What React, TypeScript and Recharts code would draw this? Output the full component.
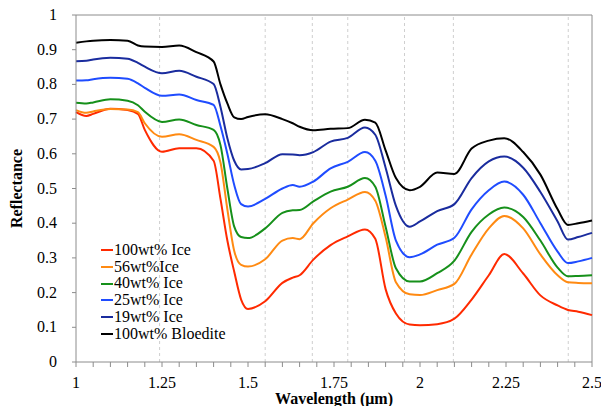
import { Line, LineChart, ReferenceLine, XAxis, YAxis } from 'recharts';

const wavelengths = [
  1.0, 1.03, 1.05, 1.1, 1.15, 1.18, 1.2, 1.25, 1.3, 1.35, 1.4, 1.42, 1.44, 1.46, 1.48, 1.5, 1.55, 1.6, 1.63, 1.65,
  1.69, 1.74, 1.79, 1.84, 1.87, 1.9, 1.93, 1.97, 2.0, 2.05, 2.1, 2.15, 2.2, 2.245, 2.3, 2.35, 2.4, 2.43, 2.46, 2.5,
];

const ice100 = [
  0.72, 0.709, 0.715, 0.73, 0.726, 0.715, 0.669, 0.606, 0.616, 0.616, 0.58, 0.47, 0.35, 0.26, 0.18, 0.153, 0.175,
  0.228, 0.243, 0.25, 0.295, 0.337, 0.362, 0.382, 0.355, 0.21, 0.14, 0.108, 0.106, 0.109, 0.125, 0.18, 0.25, 0.311,
  0.255, 0.192, 0.163, 0.15, 0.145, 0.135,
];
const ice56 = [
  0.726, 0.718, 0.722, 0.729, 0.728, 0.72, 0.688, 0.649, 0.656, 0.64, 0.62, 0.575, 0.44, 0.32, 0.28, 0.275, 0.296,
  0.35, 0.357, 0.354, 0.4, 0.443, 0.468, 0.49, 0.465, 0.36, 0.23, 0.195, 0.193, 0.207, 0.225, 0.31, 0.385, 0.421,
  0.385, 0.31, 0.25, 0.23, 0.228, 0.227,
];
const ice40 = [
  0.747, 0.745, 0.748, 0.757, 0.753, 0.74, 0.721, 0.692, 0.699, 0.683, 0.669, 0.625, 0.5, 0.39, 0.36, 0.357, 0.385,
  0.43, 0.437, 0.438, 0.463, 0.491, 0.505, 0.53, 0.505, 0.39, 0.27, 0.232, 0.232, 0.256, 0.292, 0.375, 0.425, 0.445,
  0.418, 0.35, 0.272, 0.247, 0.248, 0.25,
];
const ice25 = [
  0.811, 0.812, 0.815, 0.819, 0.816, 0.803, 0.79, 0.767, 0.771, 0.755, 0.741, 0.68, 0.6, 0.51, 0.455, 0.448, 0.47,
  0.5, 0.51, 0.505, 0.52, 0.558, 0.577, 0.605, 0.58, 0.48, 0.35, 0.302, 0.31, 0.338, 0.358, 0.44, 0.495, 0.52,
  0.482, 0.4, 0.318, 0.285, 0.29, 0.3,
];
const ice19 = [
  0.867, 0.868, 0.872, 0.877, 0.874, 0.862, 0.851, 0.832, 0.839, 0.822, 0.801, 0.735, 0.645, 0.58, 0.555, 0.556,
  0.573, 0.599, 0.598, 0.596, 0.605, 0.635, 0.646, 0.676, 0.655, 0.56, 0.45, 0.39, 0.405, 0.435, 0.455, 0.53, 0.578,
  0.592, 0.56, 0.49, 0.405, 0.353, 0.36, 0.372,
];
const bloedite = [
  0.92, 0.924, 0.926, 0.928, 0.926, 0.912, 0.909, 0.908, 0.912, 0.893, 0.866, 0.8, 0.745, 0.705, 0.7, 0.706, 0.714,
  0.7, 0.688, 0.678, 0.668, 0.672, 0.674, 0.698, 0.69, 0.61, 0.53, 0.495, 0.505, 0.546, 0.542, 0.615, 0.638, 0.645,
  0.605, 0.54, 0.44, 0.395, 0.4, 0.408,
];

const seriesNames = ['100wt% Ice', '56wt%Ice', '40wt% Ice', '25wt% Ice', '19wt% Ice', '100wt% Bloedite'];
const seriesValues = [ice100, ice56, ice40, ice25, ice19, bloedite];
const seriesColors = ['#ff2a00', '#ff8a12', '#16901a', '#1f4cff', '#1a2c9e', '#000000'];

const xTicks = [
  1, 1.05, 1.1, 1.15, 1.2, 1.25, 1.3, 1.35, 1.4, 1.45, 1.5, 1.55, 1.6, 1.65, 1.7, 1.75, 1.8, 1.85, 1.9, 1.95, 2,
  2.05, 2.1, 2.15, 2.2, 2.25, 2.3, 2.35, 2.4, 2.45, 2.5,
];
const yTicks = [0, 0.1, 0.2, 0.3, 0.4, 0.5, 0.6, 0.7, 0.8, 0.9, 1];
// dashed markers at absorption features
const featureLines = [1.243, 1.55, 1.687, 1.79, 1.955, 2.097, 2.431];

const data = wavelengths.map((w, i) => {
  const row: Record<string, number> = { w };
  seriesNames.forEach((name, s) => {
    row[name] = seriesValues[s][i];
  });
  return row;
});

const serif = 'Liberation Serif, serif';
const axisGrey = '#8c8c8c';

function isMajor(v: number) {
  return Math.abs(v * 4 - Math.round(v * 4)) < 1e-6;
}

type TickProps = { x?: number; y?: number; payload?: { value: number } };

function XTick({ x = 0, y = 0, payload }: TickProps) {
  const v = payload?.value ?? 0;
  if (!isMajor(v)) return null;
  return (
    <text x={x} y={y + 17} textAnchor="middle" fontFamily={serif} fontSize={16} fill="#000">
      {String(v)}
    </text>
  );
}

function YTick({ x = 0, y = 0, payload }: TickProps) {
  return (
    <text x={x} y={y + 5} textAnchor="end" fontFamily={serif} fontSize={16} fill="#000">
      {String(payload?.value ?? '')}
    </text>
  );
}

export default function App() {
  return (
    <div style={{ position: 'relative', width: 609, height: 414, margin: -8, overflow: 'hidden', background: '#fff', fontFamily: serif }}>
      <LineChart width={609} height={414} data={data} margin={{ top: 15, right: 17, left: 0, bottom: 7 }}>
        {featureLines.map((x) => (
          <ReferenceLine key={x} x={x} stroke="#cfcfcf" strokeDasharray="3 3" />
        ))}
        <ReferenceLine y={1} stroke={axisGrey} />
        <ReferenceLine x={2.5} stroke={axisGrey} />
        <XAxis
          dataKey="w"
          type="number"
          domain={[1, 2.5]}
          ticks={xTicks}
          interval={0}
          height={45}
          tickSize={5}
          tickMargin={4}
          axisLine={{ stroke: axisGrey }}
          tickLine={{ stroke: axisGrey }}
          tick={<XTick />}
          label={{
            value: 'Wavelength (μm)',
            position: 'insideBottom',
            offset: 3,
            style: { fill: '#000', fontSize: 16, fontWeight: 'bold', fontFamily: serif },
          }}
        />
        <YAxis
          type="number"
          domain={[0, 1]}
          ticks={yTicks}
          interval={0}
          width={76}
          tickSize={4}
          tickMargin={15}
          axisLine={{ stroke: axisGrey }}
          tickLine={{ stroke: axisGrey }}
          tick={<YTick />}
          label={{
            value: 'Reflectance',
            angle: -90,
            position: 'insideLeft',
            offset: 16,
            style: { textAnchor: 'middle', fill: '#000', fontSize: 16, fontWeight: 'bold', fontFamily: serif },
          }}
        />
        {seriesNames.map((name, s) => (
          <Line
            key={name}
            type="monotone"
            dataKey={name}
            stroke={seriesColors[s]}
            strokeWidth={2}
            dot={false}
            isAnimationActive={false}
          />
        ))}
      </LineChart>

      <div style={{ position: 'absolute', left: 101, top: 242, fontSize: 16, lineHeight: '16.7px', color: '#000' }}>
        {seriesNames.map((name, s) => (
          <div key={name} style={{ display: 'flex', alignItems: 'center', whiteSpace: 'nowrap' }}>
            <span style={{ display: 'inline-block', width: 12, height: 2, background: seriesColors[s], marginRight: 1 }} />
            {name}
          </div>
        ))}
      </div>

      <div
        style={{
          position: 'absolute',
          left: 28,
          top: 406,
          fontSize: 20,
          lineHeight: '20px',
          fontWeight: 'bold',
          whiteSpace: 'nowrap',
          color: '#000',
        }}
      >
        Fig 1. VIS-NIR spectra of mixtures of ice and bloedite (125–250 μm)
      </div>
    </div>
  );
}
